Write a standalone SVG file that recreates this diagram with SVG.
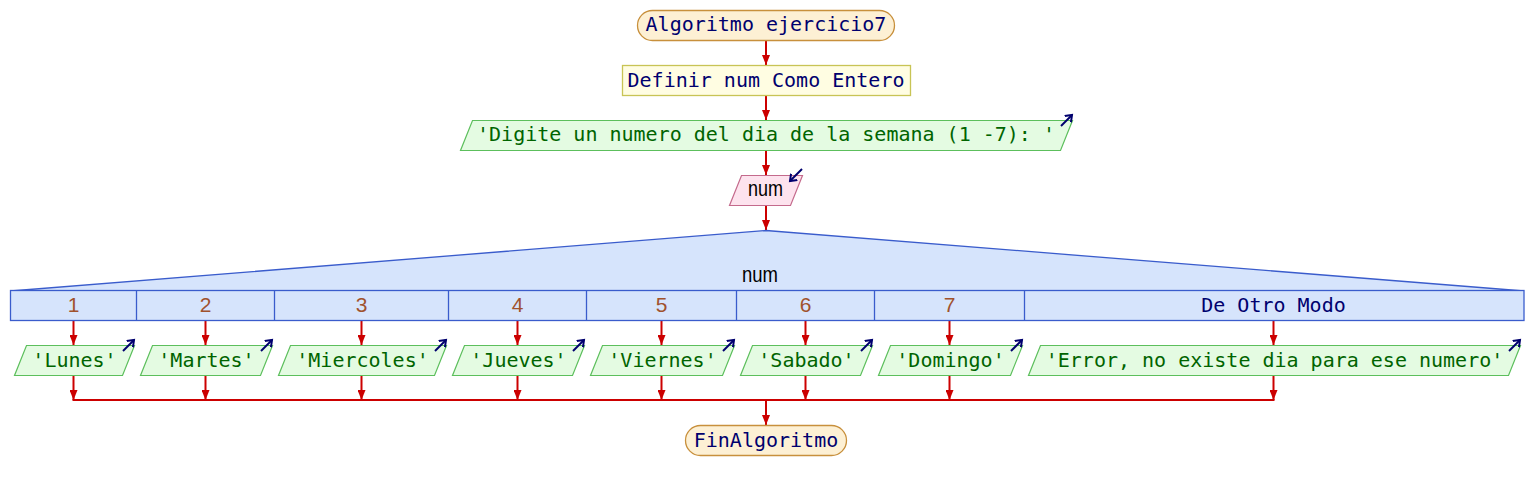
<svg xmlns="http://www.w3.org/2000/svg" width="1532" height="490" viewBox="0 0 1532 490">
<style>
.mono{font-family:"DejaVu Sans Mono","Liberation Mono",monospace;font-size:20px;text-anchor:middle}
.navy{fill:#00006e}
.grn{fill:#006400}
.sans{font-family:"Liberation Sans Narrow","Liberation Sans",sans-serif;text-anchor:middle}
.term{fill:#fdf0d4;stroke:#c8903c;stroke-width:1.3}
.proc{fill:#fffde2;stroke:#c8c455;stroke-width:1.3}
.out{fill:#e4fbe2;stroke:#5cbf5c;stroke-width:1.2}
.inp{fill:#fde3ee;stroke:#c46a8c;stroke-width:1.2}
.sel{fill:#d6e4fc;stroke:#3a5ccc;stroke-width:1.3}
.icon{stroke:#00006e;stroke-width:2;fill:none}
.cn{stroke:#cc0000;stroke-width:2;fill:none}
.num{fill:#a0522d;font-size:21px}
.div{stroke:#3a5ccc;stroke-width:1.3}
</style>
<defs>
<marker id="ah" markerWidth="11" markerHeight="8" refX="10" refY="4" orient="auto" markerUnits="userSpaceOnUse"><path d="M0,0 L10,4 L0,8 z" fill="#cc0000"/></marker>
<marker id="ic" markerWidth="9" markerHeight="10" refX="6" refY="5" orient="auto" markerUnits="userSpaceOnUse"><path d="M0,0.5 L6,5 L0,9.5" fill="none" stroke="#00006e" stroke-width="2"/></marker>
</defs>

<g id="connectors">
<line class="cn" x1="766" y1="40" x2="766" y2="65" marker-end="url(#ah)"/>
<line class="cn" x1="766" y1="96" x2="766" y2="120" marker-end="url(#ah)"/>
<line class="cn" x1="766" y1="150" x2="766" y2="175" marker-end="url(#ah)"/>
<line class="cn" x1="766" y1="205" x2="766" y2="230" marker-end="url(#ah)"/>
<line class="cn" x1="73.5" y1="320" x2="73.5" y2="345" marker-end="url(#ah)"/>
<line class="cn" x1="205.5" y1="320" x2="205.5" y2="345" marker-end="url(#ah)"/>
<line class="cn" x1="361.5" y1="320" x2="361.5" y2="345" marker-end="url(#ah)"/>
<line class="cn" x1="517.5" y1="320" x2="517.5" y2="345" marker-end="url(#ah)"/>
<line class="cn" x1="661.5" y1="320" x2="661.5" y2="345" marker-end="url(#ah)"/>
<line class="cn" x1="805.5" y1="320" x2="805.5" y2="345" marker-end="url(#ah)"/>
<line class="cn" x1="949.5" y1="320" x2="949.5" y2="345" marker-end="url(#ah)"/>
<line class="cn" x1="1273.5" y1="320" x2="1273.5" y2="345" marker-end="url(#ah)"/>
<line class="cn" x1="73.5" y1="375" x2="73.5" y2="400" marker-end="url(#ah)"/>
<line class="cn" x1="205.5" y1="375" x2="205.5" y2="400" marker-end="url(#ah)"/>
<line class="cn" x1="361.5" y1="375" x2="361.5" y2="400" marker-end="url(#ah)"/>
<line class="cn" x1="517.5" y1="375" x2="517.5" y2="400" marker-end="url(#ah)"/>
<line class="cn" x1="661.5" y1="375" x2="661.5" y2="400" marker-end="url(#ah)"/>
<line class="cn" x1="805.5" y1="375" x2="805.5" y2="400" marker-end="url(#ah)"/>
<line class="cn" x1="949.5" y1="375" x2="949.5" y2="400" marker-end="url(#ah)"/>
<line class="cn" x1="1273.5" y1="375" x2="1273.5" y2="400" marker-end="url(#ah)"/>
<line class="cn" x1="72.5" y1="400" x2="1274.5" y2="400"/>
<line class="cn" x1="766" y1="400" x2="766" y2="425" marker-end="url(#ah)"/>
</g>

<g id="start">
<rect class="term" x="637.5" y="10.5" width="257" height="30" rx="15"/>
<text class="mono navy" x="766" y="31">Algoritmo ejercicio7</text>
</g>

<g id="define">
<rect class="proc" x="622.5" y="65.5" width="288" height="30"/>
<text class="mono navy" x="766" y="87">Definir num Como Entero</text>
</g>

<g id="prompt">
<polygon class="out" points="472.5,120.5 1072.5,120.5 1060.5,150.5 460.5,150.5"/>
<text class="mono grn" x="766" y="141">'Digite un numero del dia de la semana (1 -7): '</text>
<line class="icon" x1="1061" y1="126" x2="1072" y2="115" marker-end="url(#ic)"/>
</g>

<g id="read">
<polygon class="inp" points="741.5,175.5 802.5,175.5 790.5,205.5 729.5,205.5"/>
<text class="sans" x="765.5" y="196" font-size="22" fill="#000" textLength="35" lengthAdjust="spacingAndGlyphs">num</text>
<line class="icon" x1="802" y1="169" x2="790" y2="181" marker-end="url(#ic)"/>
</g>

<g id="switch">
<polygon class="sel" points="10.5,291 766,230.5 1524,291"/>
<rect class="sel" x="10.5" y="290.5" width="1513.5" height="30"/>
<line class="div" x1="136.5" y1="290.5" x2="136.5" y2="320.5"/>
<line class="div" x1="274.5" y1="290.5" x2="274.5" y2="320.5"/>
<line class="div" x1="448.5" y1="290.5" x2="448.5" y2="320.5"/>
<line class="div" x1="586.5" y1="290.5" x2="586.5" y2="320.5"/>
<line class="div" x1="736.5" y1="290.5" x2="736.5" y2="320.5"/>
<line class="div" x1="874.5" y1="290.5" x2="874.5" y2="320.5"/>
<line class="div" x1="1024.5" y1="290.5" x2="1024.5" y2="320.5"/>
<text class="sans" x="760" y="282" font-size="22" fill="#000" textLength="36" lengthAdjust="spacingAndGlyphs">num</text>
<text class="sans num" x="73.5" y="312">1</text>
<text class="sans num" x="205.5" y="312">2</text>
<text class="sans num" x="361.5" y="312">3</text>
<text class="sans num" x="517.5" y="312">4</text>
<text class="sans num" x="661.5" y="312">5</text>
<text class="sans num" x="805.5" y="312">6</text>
<text class="sans num" x="949.5" y="312">7</text>
<text class="mono navy" x="1273.5" y="312">De Otro Modo</text>
</g>

<g id="case1">
<polygon class="out" points="26.5,345.5 134.5,345.5 122.5,375.5 14.5,375.5"/>
<text class="mono grn" x="74.5" y="367">'Lunes'</text>
<line class="icon" x1="123" y1="351" x2="134" y2="340" marker-end="url(#ic)"/>
</g>
<g id="case2">
<polygon class="out" points="152.5,345.5 272.5,345.5 260.5,375.5 140.5,375.5"/>
<text class="mono grn" x="206.5" y="367">'Martes'</text>
<line class="icon" x1="261" y1="351" x2="272" y2="340" marker-end="url(#ic)"/>
</g>
<g id="case3">
<polygon class="out" points="290.5,345.5 446.5,345.5 434.5,375.5 278.5,375.5"/>
<text class="mono grn" x="362.5" y="367">'Miercoles'</text>
<line class="icon" x1="435" y1="351" x2="446" y2="340" marker-end="url(#ic)"/>
</g>
<g id="case4">
<polygon class="out" points="464.5,345.5 584.5,345.5 572.5,375.5 452.5,375.5"/>
<text class="mono grn" x="518.5" y="367">'Jueves'</text>
<line class="icon" x1="573" y1="351" x2="584" y2="340" marker-end="url(#ic)"/>
</g>
<g id="case5">
<polygon class="out" points="602.5,345.5 734.5,345.5 722.5,375.5 590.5,375.5"/>
<text class="mono grn" x="662.5" y="367">'Viernes'</text>
<line class="icon" x1="723" y1="351" x2="734" y2="340" marker-end="url(#ic)"/>
</g>
<g id="case6">
<polygon class="out" points="752.5,345.5 872.5,345.5 860.5,375.5 740.5,375.5"/>
<text class="mono grn" x="806.5" y="367">'Sabado'</text>
<line class="icon" x1="861" y1="351" x2="872" y2="340" marker-end="url(#ic)"/>
</g>
<g id="case7">
<polygon class="out" points="890.5,345.5 1022.5,345.5 1010.5,375.5 878.5,375.5"/>
<text class="mono grn" x="950.5" y="367">'Domingo'</text>
<line class="icon" x1="1011" y1="351" x2="1022" y2="340" marker-end="url(#ic)"/>
</g>
<g id="case8">
<polygon class="out" points="1040.5,345.5 1520.5,345.5 1508.5,375.5 1028.5,375.5"/>
<text class="mono grn" x="1274.5" y="367">'Error, no existe dia para ese numero'</text>
<line class="icon" x1="1509" y1="351" x2="1520" y2="340" marker-end="url(#ic)"/>
</g>

<g id="end">
<rect class="term" x="685.5" y="425.5" width="161" height="30" rx="15"/>
<text class="mono navy" x="766" y="447">FinAlgoritmo</text>
</g>
</svg>
